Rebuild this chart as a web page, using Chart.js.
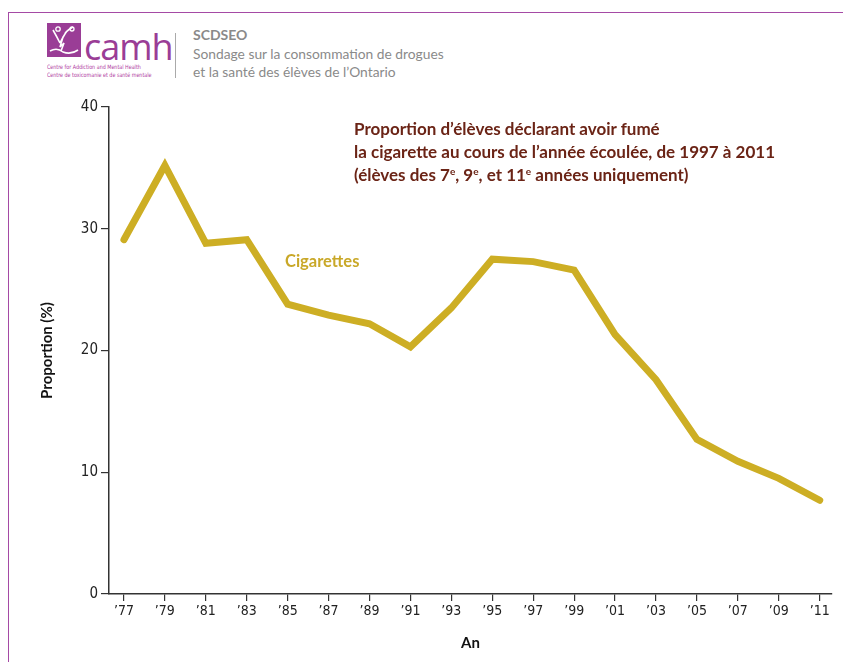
<!DOCTYPE html>
<html>
<head>
<meta charset="utf-8">
<script src="https://cdn.jsdelivr.net/npm/chart.js@4.4.1/dist/chart.umd.min.js"></script>
<style>
  body { margin: 0; background: #fff; }
  #page { position: relative; width: 843px; height: 662px; overflow: hidden; font-family: Lato, "Open Sans", sans-serif; }
  #cadre { position: absolute; left: 8px; top: 12px; width: 900px; height: 700px; border-left: 1.5px solid #a54aa5; border-top: 1.5px solid #a54aa5; }
  #logo { position: absolute; left: 47px; top: 23px; }
  #camh { position: absolute; left: 84px; top: 22px; font-size: 36px; color: #9a3d96; letter-spacing: -1px; font-family: "Open Sans", sans-serif; }
  .petit { position: absolute; left: 47px; font-size: 6px; color: #b0409f; font-family: "DejaVu Sans", sans-serif; white-space: nowrap; transform: scaleX(0.8); transform-origin: left; }
  #sep { position: absolute; left: 175px; top: 33px; width: 1px; height: 45px; background: #aaa; }
  #scdseo { position: absolute; left: 193px; top: 26px; font-size: 14px; font-weight: bold; color: #8a8a8a; }
  .sous { position: absolute; left: 193px; font-size: 13.8px; color: #8a8a8a; white-space: nowrap; }
  #titre { position: absolute; left: 354px; top: 117px; font-size: 17px; font-weight: bold; color: #6b2416; line-height: 23px; white-space: nowrap; }
  #titre sup { font-size: 10px; vertical-align: 6px; line-height: 0; }
  #etiquette { position: absolute; left: 285px; top: 251px; font-size: 16.5px; font-weight: bold; color: #c9a828; }
  canvas { position: absolute; left: 0; top: 0; }
</style>
</head>
<body>
<div id="page">
  <div id="cadre"></div>
  <svg id="logo" width="34" height="34" viewBox="0 0 34 34">
    <rect width="34" height="34" fill="#9a3d96"/>
    <path d="M6 7 Q10 14 13 20 M13 20 Q17 12 20 8 M18 10 Q22 6 26 4 M16 14 L13 24 L17 20 L14 28 M3 28 Q10 24 16 29 Q24 32 31 27" stroke="#fff" stroke-width="1.6" fill="none"/>
    <circle cx="11" cy="6" r="2.2" stroke="#fff" stroke-width="1.3" fill="none"/>
    <circle cx="25" cy="6" r="2" stroke="#fff" stroke-width="1.3" fill="none"/>
  </svg>
  <div id="camh">camh</div>
  <div class="petit" style="top:63px">Centre for Addiction and Mental Health</div>
  <div class="petit" style="top:71px">Centre de toxicomanie et de santé mentale</div>
  <div id="sep"></div>
  <div id="scdseo">SCDSEO</div>
  <div class="sous" style="top:45px">Sondage sur la consommation de drogues</div>
  <div class="sous" style="top:63px">et la santé des élèves de l’Ontario</div>
  <canvas id="myChart" width="843" height="662"></canvas>
  <div id="titre">Proportion d’élèves déclarant avoir fumé<br>la cigarette au cours de l’année écoulée, de 1997 à 2011<br>(élèves des 7<sup>e</sup>, 9<sup>e</sup>, et 11<sup>e</sup> années uniquement)</div>
  <div id="etiquette">Cigarettes</div>
</div>
<script>
//Donnees du graphique
var annees = [1977, 1979, 1981, 1983, 1985, 1987, 1989, 1991, 1993, 1995, 1997, 1999, 2001, 2003, 2005, 2007, 2009, 2011];
var cigarettes = [29.1, 35.2, 28.8, 29.1, 23.8, 22.9, 22.2, 20.3, 23.5, 27.5, 27.3, 26.6, 21.3, 17.6, 12.7, 10.9, 9.5, 7.7];
var ticksY = [0, 10, 20, 30, 40];

var points = annees.map(function (a, i) {
      return { x: a, y: cigarettes[i] };
});

const ctx = document.getElementById('myChart').getContext('2d');
let myChart = new Chart(ctx, {
      type: 'line',
      data: {
            datasets: [{
                  label: 'Cigarettes',
                  data: points,
                  borderColor: '#cdae24',
                  borderWidth: 7,
                  borderCapStyle: 'round',
                  borderJoinStyle: 'miter',
                  pointRadius: 0,
                  tension: 0
            }]
      },
      options: {
            responsive: false,
            animation: false,
            layout: { padding: { top: 107, right: 11, left: 0, bottom: 0 } },
            plugins: { legend: { display: false }, tooltip: { enabled: false } },
            scales: {
                  x: {
                        type: 'linear',
                        min: 1976.27,
                        max: 2011.6,
                        afterBuildTicks: function (axis) {
                              axis.ticks = annees.map(function (a) { return { value: a }; });
                        },
                        afterFit: function (scale) { scale.height = 68; },
                        ticks: {
                              autoSkip: false,
                              maxRotation: 0,
                              padding: 2,
                              color: '#222',
                              font: { family: 'DejaVu Sans Condensed', size: 14 },
                              callback: function (v) { return '’' + String(v).slice(2); }
                        },
                        grid: { drawOnChartArea: false, drawTicks: true, tickLength: 7, color: '#333', lineWidth: 1.2 },
                        border: { display: true, color: '#333', width: 1.5 },
                        title: { display: true, text: 'An', color: '#111', font: { family: 'Lato', size: 15, weight: 'bold' }, padding: { top: 0, bottom: 10 } }
                  },
                  y: {
                        min: 0,
                        max: 40,
                        afterBuildTicks: function (axis) {
                              axis.ticks = ticksY.map(function (v) { return { value: v }; });
                        },
                        afterFit: function (scale) { scale.width = 109; },
                        ticks: {
                              padding: 3,
                              color: '#222',
                              font: { family: 'DejaVu Sans Condensed', size: 15 }
                        },
                        grid: { drawOnChartArea: false, drawTicks: true, tickLength: 8, color: '#333', lineWidth: 1.2 },
                        border: { display: true, color: '#333', width: 1.5 },
                        title: { display: true, text: 'Proportion (%)', color: '#111', font: { family: 'Lato', size: 15, weight: 'bold' }, padding: { top: 38, bottom: 0 } }
                  }
            }
      }
});
</script>
</body>
</html>
